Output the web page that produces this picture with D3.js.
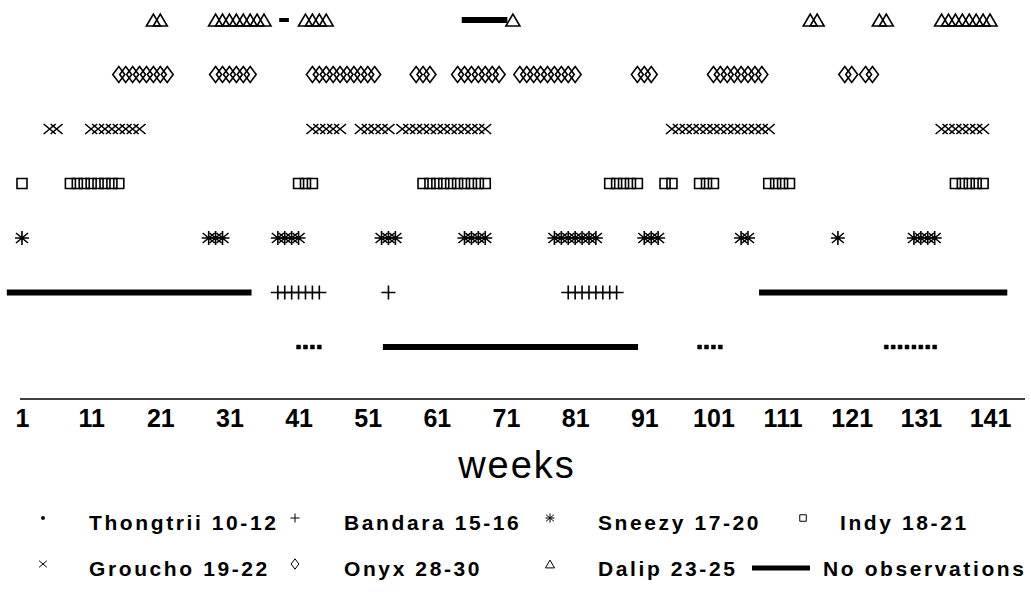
<!DOCTYPE html>
<html>
<head>
<meta charset="utf-8">
<script src="https://cdn.jsdelivr.net/npm/d3@7"></script>
<style>
  html, body { margin: 0; padding: 0; background: #fff; }
  svg { display: block; font-family: "Liberation Sans", Arial, sans-serif; }
</style>
</head>
<body>
<svg id="chart" width="1031" height="605"></svg>
<script>
// rows, top to bottom
const animals = ['Dalip', 'Onyx', 'Groucho', 'Indy', 'Sneezy', 'Bandara', 'Thongtrii'];

// weeks each animal was observed
const dalipWeeks = [20, 21, 29, 30, 31, 32, 33, 34, 35, 36, 42, 43, 44, 45, 72, 115, 116, 125, 126,
  134, 135, 136, 137, 138, 139, 140, 141];
const onyxWeeks = [15, 16, 17, 18, 19, 20, 21, 22, 29, 30, 31, 32, 33, 34, 43, 44, 45, 46, 47, 48, 49, 50, 51, 52,
  58, 59, 60, 64, 65, 66, 67, 68, 69, 70, 73, 74, 75, 76, 77, 78, 79, 80, 81, 90, 91, 92,
  101, 102, 103, 104, 105, 106, 107, 108, 120, 121, 123, 124];
const grouchoWeeks = [5, 6, 11, 12, 13, 14, 15, 16, 17, 18, 43, 44, 45, 46, 47, 50, 51, 52, 53, 54,
  56, 57, 58, 59, 60, 61, 62, 63, 64, 65, 66, 67, 68,
  95, 96, 97, 98, 99, 100, 101, 102, 103, 104, 105, 106, 107, 108, 109, 134, 135, 136, 137, 138, 139, 140];
const indyWeeks = [1, 8, 9, 10, 11, 12, 13, 14, 15, 41, 42, 43, 59, 60, 61, 62, 63, 64, 65, 66, 67, 68,
  86, 87, 88, 89, 90, 94, 95, 99, 100, 101, 109, 110, 111, 112, 136, 137, 138, 139, 140];
const sneezyWeeks = [1, 28, 29, 30, 38, 39, 40, 41, 53, 54, 55, 65, 66, 67, 68, 78, 79, 80, 81, 82, 83, 84,
  91, 92, 93, 105, 106, 119, 130, 131, 132, 133];
const bandaraWeeks = [38, 39, 40, 41, 42, 43, 44, 54, 80, 81, 82, 83, 84, 85, 86, 87];
const thongtriiWeeks = [41, 42, 43, 44, 99, 100, 101, 102, 126, 127, 128, 129, 130, 131, 132, 133];

// stretches with no observations [from week, to week]
const dalipGaps = [[38.2, 39.6], [64.6, 71.2]];
const bandaraGaps = [[-1.2, 34.2], [107.6, 143.5]];
const thongtriiGaps = [[53.2, 90.1]];

const weekTicks = [1, 11, 21, 31, 41, 51, 61, 71, 81, 91, 101, 111, 121, 131, 141];

const legendRow1 = [['Thongtrii', 'Thongtrii 10-12'], ['Bandara', 'Bandara 15-16'], ['Sneezy', 'Sneezy 17-20'], ['Indy', 'Indy 18-21']];
const legendRow2 = [['Groucho', 'Groucho 19-22'], ['Onyx', 'Onyx 28-30'], ['Dalip', 'Dalip 23-25']];

const series = [
  { name: 'Dalip', weeks: dalipWeeks, gaps: dalipGaps },
  { name: 'Onyx', weeks: onyxWeeks, gaps: [] },
  { name: 'Groucho', weeks: grouchoWeeks, gaps: [] },
  { name: 'Indy', weeks: indyWeeks, gaps: [] },
  { name: 'Sneezy', weeks: sneezyWeeks, gaps: [] },
  { name: 'Bandara', weeks: bandaraWeeks, gaps: bandaraGaps },
  { name: 'Thongtrii', weeks: thongtriiWeeks, gaps: thongtriiGaps }
];

// marker outlines centred on 0,0, s = scale
function markerPath(name, s) {
  switch (name) {
    case 'Dalip': return `M${-7*s},${6*s}L0,${-6*s}L${7*s},${6*s}Z`;
    case 'Onyx': return `M0,${-8*s}L${6*s},0L0,${8*s}L${-6*s},0Z`;
    case 'Groucho': return `M${-6*s},${-5*s}L${6*s},${5*s}M${-6*s},${5*s}L${6*s},${-5*s}`;
    case 'Indy': return `M${-5*s},${-5*s}h${10*s}v${10*s}h${-10*s}Z`;
    case 'Sneezy': return `M0,${-7*s}V${7*s}M${-7*s},0H${7*s}M${-6*s},${-5*s}L${6*s},${5*s}M${-6*s},${5*s}L${6*s},${-5*s}`;
    case 'Bandara': return `M${-7*s},0H${7*s}M0,${-7*s}V${7*s}`;
    case 'Thongtrii': return `M${-2*s},${-2*s}h${4*s}v${4*s}h${-4*s}Z`;
  }
}

const svg = d3.select('#chart');

const x = d3.scaleLinear().domain([1, 141]).range([22, 990]);
const y = d3.scalePoint().domain(animals).range([20, 347]);

// marks
const rows = svg.selectAll('g.row')
  .data(series)
  .enter()
  .append('g')
  .attr('class', 'row')
  .attr('transform', d => `translate(0,${y(d.name)})`);

rows.selectAll('line.gap')
  .data(d => d.gaps)
  .enter()
  .append('line')
  .attr('class', 'gap')
  .attr('x1', d => x(d[0]))
  .attr('x2', d => x(d[1]))
  .attr('stroke', '#000')
  .attr('stroke-width', d => d[1] - d[0] < 2 ? 4 : 6);

rows.each(function(d) {
  d3.select(this).selectAll('path.mark')
    .data(d.weeks)
    .enter()
    .append('path')
    .attr('class', 'mark')
    .attr('transform', w => `translate(${x(w)},0)`)
    .attr('d', markerPath(d.name, 1))
    .attr('fill', d.name === 'Thongtrii' ? '#000' : 'none')
    .attr('stroke', '#000')
    .attr('stroke-width', d.name === 'Thongtrii' ? 0.5 : 1.6);
});

// axis
const axis = d3.axisBottom(x)
  .tickValues(weekTicks)
  .tickSize(0)
  .tickPadding(0);

const axisG = svg.append('g')
  .attr('transform', 'translate(0,399)')
  .call(axis);
axisG.select('.domain').remove();
axisG.append('line')
  .attr('x1', 20).attr('x2', 1025)
  .attr('stroke', '#000')
  .attr('stroke-width', 1.5);
axisG.selectAll('.tick text')
  .attr('y', 28)
  .attr('dy', 0)
  .attr('fill', '#000')
  .style('font-size', '25px')
  .style('font-weight', 'bold')
  .style('font-family', '"Liberation Sans", Arial, sans-serif');

svg.append('text')
  .attr('x', 517)
  .attr('y', 478)
  .attr('text-anchor', 'middle')
  .style('font-size', '38px')
  .style('letter-spacing', '2px')
  .text('weeks');

// legend
const symX = [43, 295, 550, 803];
const textX = [89, 344, 598, 840];
const legendY = [530, 576];

function legendRow(items, ry) {
  items.forEach((item, i) => {
    svg.append('path')
      .attr('transform', `translate(${symX[i]},${ry - 12})`)
      .attr('d', markerPath(item[0], item[0] === 'Thongtrii' ? 0.6 : 0.65))
      .attr('fill', item[0] === 'Thongtrii' ? '#000' : 'none')
      .attr('stroke', '#000')
      .attr('stroke-width', 1);
    svg.append('text')
      .attr('x', textX[i])
      .attr('y', ry)
      .style('font-size', '21px')
      .style('font-weight', 'bold')
      .style('letter-spacing', '2.6px')
      .text(item[1]);
  });
}
legendRow(legendRow1, legendY[0]);
legendRow(legendRow2, legendY[1]);

svg.append('line')
  .attr('x1', 752).attr('x2', 810)
  .attr('y1', legendY[1] - 8).attr('y2', legendY[1] - 8)
  .attr('stroke', '#000')
  .attr('stroke-width', 5);
svg.append('text')
  .attr('x', 823)
  .attr('y', legendY[1])
  .style('font-size', '21px')
  .style('font-weight', 'bold')
  .style('letter-spacing', '2.6px')
  .text('No observations');
</script>
</body>
</html>
